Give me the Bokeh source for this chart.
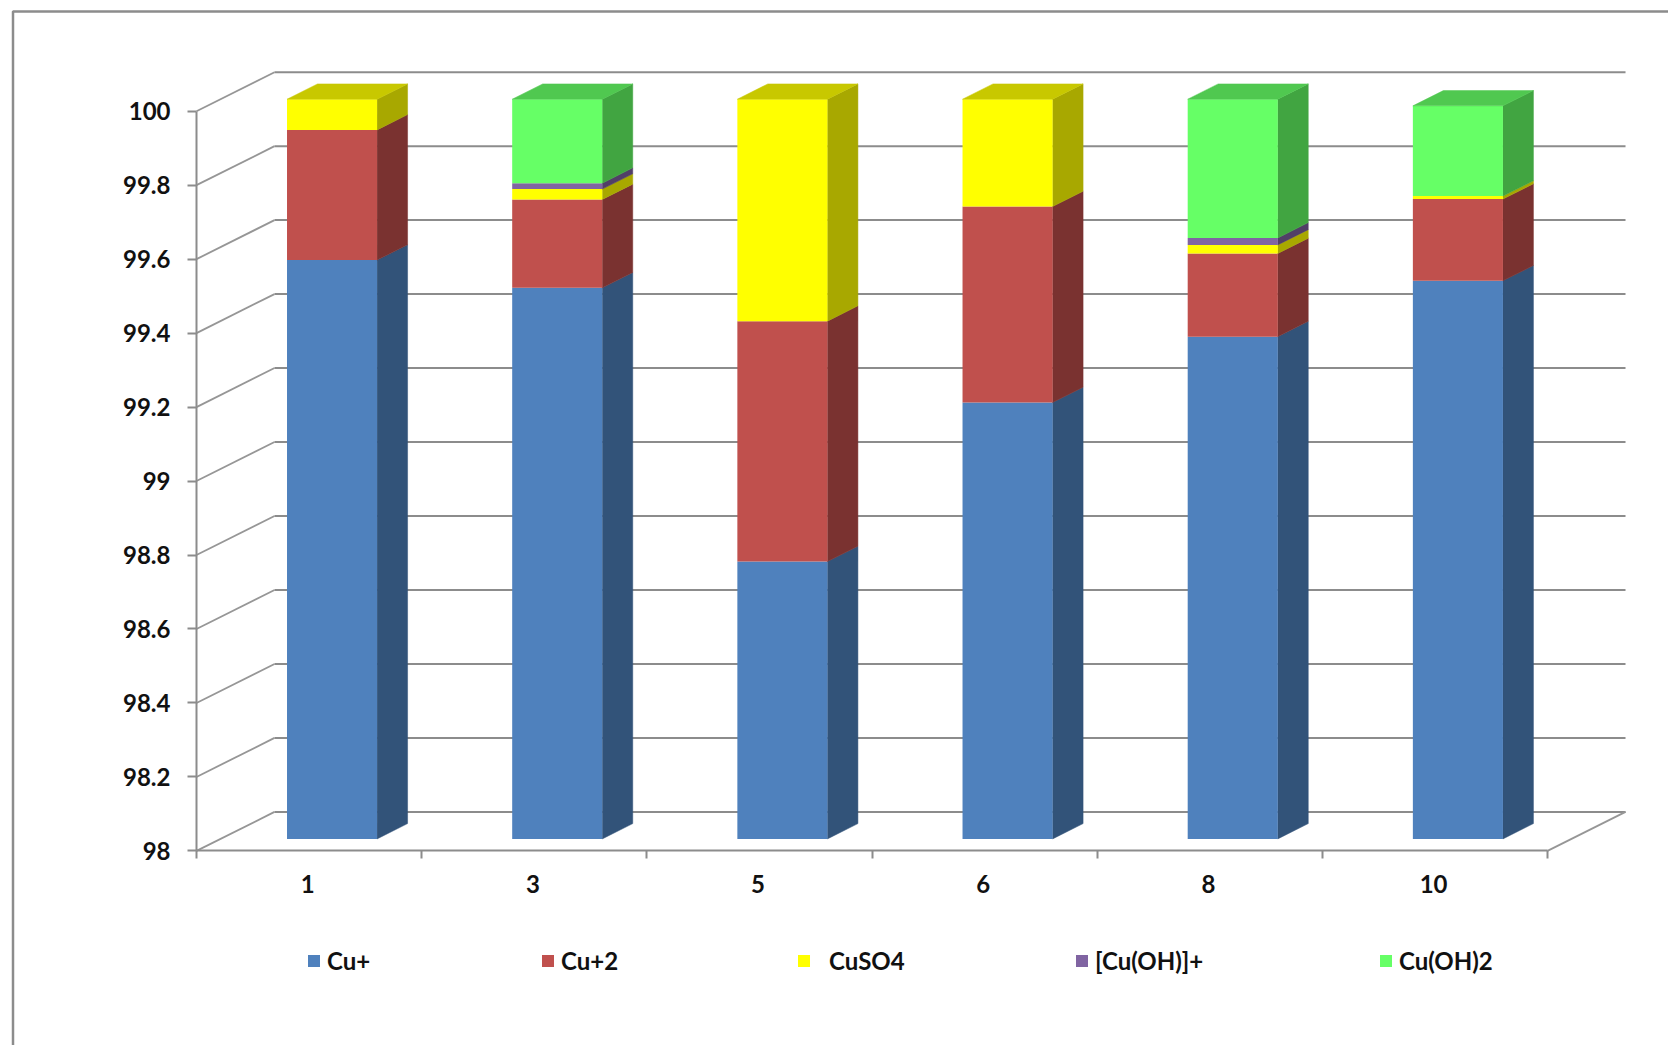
from bokeh.plotting import figure
from bokeh.embed import file_html
from bokeh.resources import INLINE
from bokeh.models import FixedTicker, Legend, LegendItem, Range1d

categories = ["1", "3", "5", "6", "8", "10"]
series_names = ["Cu+", "Cu+2", "CuSO4", "[Cu(OH)]+", "Cu(OH)2"]
cu1 = [99.565, 99.490, 98.750, 99.180, 99.358, 99.509]
cu2 = [0.352, 0.239, 0.650, 0.530, 0.225, 0.221]
cuso4 = [0.083, 0.028, 0.600, 0.290, 0.023, 0.008]
cuoh = [0.0, 0.016, 0.0, 0.0, 0.019, 0.0]
cuoh2 = [0.0, 0.227, 0.0, 0.0, 0.375, 0.244]
y_ticks = [98, 98.2, 98.4, 98.6, 98.8, 99, 99.2, 99.4, 99.6, 99.8, 100]

front = ["#4F81BD", "#C0504D", "#FFFF00", "#8064A2", "#66FF66"]
side = ["#325379", "#7A3230", "#A8A800", "#513F67", "#41A541"]
topc = ["#3F6797", "#9A403E", "#C8C800", "#665082", "#50C850"]
GRID = "#8C8C8C"
FONT = "Lato"
FS = "24px"
TEXT = "#111111"

W, H = 1668, 1045
AX_X, AX_Y = 196.0, 850.4      # pixel position of the (0, 98) corner
SX, SY = 225.17, 369.85        # pixels per category, pixels per y unit


def dx(px):
    return (px - AX_X) / SX


def dy(py):
    return 98 + (AX_Y - py) / SY


# geometry of the fake 3D box, in data units
WALL_DX, WALL_DY = 0.3464, 0.1055
BAR_OFF_X, BAR_OFF_Y = 0.102, 0.0324
BAR_DX, BAR_DY = 0.1354, 0.0414
BAR_W = 0.40
LABEL_SHIFT = -0.006
N = len(categories)

p = figure(width=W, height=H, output_backend="svg", toolbar_location=None,
           x_range=Range1d(dx(0), dx(W)), y_range=Range1d(dy(H), dy(0)),
           min_border=0)
p.grid.visible = False
p.outline_line_color = None
p.background_fill_color = "white"

# outer chart border (top and left only reach the picture)
p.line([dx(12.5), dx(12.5), dx(W + 5)], [dy(H + 5), dy(11), dy(11)],
       line_color=GRID, line_width=2.5)

# walls
p.multi_line([[0, WALL_DX] for _ in y_ticks], [[t, t + WALL_DY] for t in y_ticks],
             line_color="#969696", line_width=1.8)
p.multi_line([[WALL_DX, N + WALL_DX] for _ in y_ticks], [[t + WALL_DY] * 2 for t in y_ticks],
             line_color=GRID, line_width=2)
p.line([N, N + WALL_DX], [98, 98 + WALL_DY], line_color="#969696", line_width=1.8)

# bars
all_series = [cu1, cu2, cuso4, cuoh, cuoh2]
bottoms = [98.0] * N
front_renderers = []
for s, vals in enumerate(all_series):
    if s == 0:
        los = [98.0] * N
        his = list(vals)
    else:
        los = list(bottoms)
        his = [a + b for a, b in zip(los, vals)]
    xs = [i + 0.5 + BAR_OFF_X for i in range(N)]
    ylo = [v + BAR_OFF_Y for v in los]
    yhi = [v + BAR_OFF_Y for v in his]
    sx, sy = [], []
    for i in range(N):
        if his[i] - los[i] <= 0:
            continue
        xr = xs[i] + BAR_W / 2
        sx.append([xr, xr + BAR_DX, xr + BAR_DX, xr])
        sy.append([ylo[i], ylo[i] + BAR_DY, yhi[i] + BAR_DY, yhi[i]])
    p.patches(sx, sy, fill_color=side[s], line_color=side[s], line_width=0.5)
    r = p.vbar(x=xs, bottom=ylo, top=yhi, width=BAR_W, fill_color=front[s], line_color=None)
    front_renderers.append(r)
    bottoms = his

# top faces use the colour of the highest non-empty series
for i in range(N):
    xl = i + 0.5 + BAR_OFF_X - BAR_W / 2
    xr = xl + BAR_W
    top_idx = max(k for k in range(len(all_series)) if all_series[k][i] > 0)
    ty = sum(a[i] for a in all_series) + BAR_OFF_Y
    p.patch([xl, xr, xr + BAR_DX, xl + BAR_DX], [ty, ty, ty + BAR_DY, ty + BAR_DY],
            fill_color=topc[top_idx], line_color=topc[top_idx], line_width=0.5)

# axes, fixed inside the full-canvas frame
ya = p.yaxis[0]
ya.fixed_location = 0
ya.ticker = FixedTicker(ticks=y_ticks)
ya.major_label_overrides = {t: (str(t) if t != int(t) else str(int(t))) for t in y_ticks}
ya.bounds = (98, 100)
ya.axis_line_color = GRID
ya.axis_line_width = 2
ya.major_tick_line_color = GRID
ya.major_tick_line_width = 2
ya.major_tick_in = 0
ya.major_tick_out = 9
ya.minor_tick_line_color = None
ya.major_label_standoff = 17
ya.major_label_text_font = FONT
ya.major_label_text_font_style = "bold"
ya.major_label_text_font_size = FS
ya.major_label_text_color = TEXT

xa = p.xaxis[0]
xa.fixed_location = 98
label_pos = [i + 0.5 + LABEL_SHIFT for i in range(N)]
xa.ticker = FixedTicker(ticks=label_pos, minor_ticks=list(range(N + 1)))
xa.major_label_overrides = dict(zip(label_pos, categories))
xa.bounds = (0, N)
xa.axis_line_color = GRID
xa.axis_line_width = 2
xa.major_tick_line_color = None
xa.major_tick_in = 0
xa.major_tick_out = 0
xa.minor_tick_line_color = GRID
xa.minor_tick_line_width = 2
xa.minor_tick_in = 0
xa.minor_tick_out = 8
xa.major_label_standoff = 16
xa.major_label_text_font = FONT
xa.major_label_text_font_style = "bold"
xa.major_label_text_font_size = FS
xa.major_label_text_color = TEXT

# legend: one block per series, as spaced in the reference
legend_x = [306, 540, 796, 1074, 1378]
standoffs = [6, 6, 18, 6, 6]
for name, r, lx, so in zip(series_names, front_renderers, legend_x, standoffs):
    leg = Legend(items=[LegendItem(label=name, renderers=[r])], location=(lx, 70),
                 glyph_width=15, glyph_height=15, label_standoff=so,
                 padding=0, margin=0, border_line_color=None,
                 background_fill_alpha=0, label_text_font=FONT,
                 label_text_font_style="bold",
                 label_text_font_size=FS, label_text_color=TEXT)
    p.add_layout(leg)

open("out.html", "w").write(file_html(p, INLINE))
